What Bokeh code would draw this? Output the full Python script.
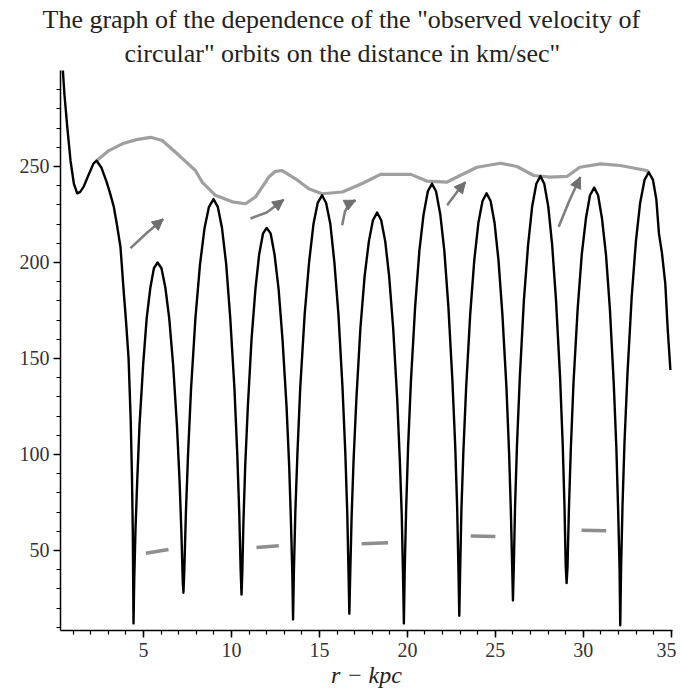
from bokeh.plotting import figure
from bokeh.models import Range1d, FixedTicker, Title, Arrow, NormalHead
from bokeh.embed import file_html
from bokeh.resources import INLINE

# ---------------- data ----------------
title_lines = ['The graph of the dependence of the "observed velocity of',
               'circular" orbits on the distance in km/sec"']
x_label = "r \u2212 kpc"
x_ticks = [5, 10, 15, 20, 25, 30, 35]
y_ticks = [50, 100, 150, 200, 250]

# black curve: velocity vs distance
black_r = [0.40, 0.50, 0.66, 0.85, 1.04, 1.23, 1.40, 1.60, 1.80, 1.99, 2.15, 2.33,
           2.60, 2.90, 3.10, 3.31, 3.50, 3.69, 3.88, 4.00, 4.15, 4.27, 4.34, 4.39, 4.43,
           4.47, 4.54, 4.64, 4.77, 4.98, 5.18, 5.39, 5.59, 5.80, 6.02, 6.24, 6.46, 6.68, 6.90, 7.05, 7.15, 7.23, 7.27,
           7.32, 7.41, 7.53, 7.70, 7.95, 8.21, 8.47, 8.72, 8.98, 9.22, 9.46, 9.70, 9.93, 10.17, 10.33, 10.44, 10.52, 10.57,
           10.61, 10.68, 10.78, 10.93, 11.14, 11.36, 11.57, 11.79, 12.00, 12.23, 12.45, 12.68, 12.90, 13.13, 13.28, 13.38, 13.46, 13.50,
           13.55, 13.63, 13.75, 13.91, 14.16, 14.41, 14.66, 14.90, 15.15, 15.38, 15.62, 15.85, 16.08, 16.31, 16.47, 16.58, 16.65, 16.70,
           16.75, 16.83, 16.94, 17.10, 17.33, 17.57, 17.81, 18.04, 18.28, 18.51, 18.74, 18.96, 19.19, 19.42, 19.57, 19.68, 19.75, 19.80,
           19.85, 19.93, 20.04, 20.20, 20.44, 20.68, 20.92, 21.16, 21.40, 21.63, 21.87, 22.10, 22.33, 22.56, 22.72, 22.83, 22.90, 22.95,
           23.00, 23.07, 23.18, 23.34, 23.57, 23.80, 24.04, 24.27, 24.50, 24.73, 24.95, 25.18, 25.40, 25.63, 25.78, 25.88, 25.96, 26.00,
           26.05, 26.12, 26.23, 26.39, 26.62, 26.86, 27.09, 27.33, 27.56, 27.78, 28.01, 28.23, 28.45, 28.68, 28.83, 28.93, 29.00, 29.05,
           29.10, 29.18, 29.29, 29.44, 29.68, 29.91, 30.15, 30.38, 30.62, 30.84, 31.06, 31.29, 31.51, 31.73, 31.88, 31.98, 32.06, 32.10,
           32.15, 32.23, 32.34, 32.51, 32.75, 32.99, 33.23, 33.48, 33.72, 33.96, 34.15, 34.30, 34.47, 34.66, 34.80, 34.95]
black_v = [302, 288, 271, 253, 241, 236, 236.8, 239.5, 244, 248, 251.5, 253,
           249.5, 242, 236, 229, 219, 208, 184, 170, 150, 118, 90, 60, 12,
           34, 60, 86, 115, 147, 171, 187, 197, 200, 197, 187, 171, 147, 115, 86, 60, 34, 28,
           40, 70, 100, 134, 171, 199, 218, 229, 233, 229, 218, 199, 171, 134, 100, 70, 40, 27,
           37, 65, 94, 125, 160, 186, 204, 215, 218, 215, 204, 186, 160, 125, 94, 65, 37, 14,
           40, 70, 101, 135, 173, 200, 220, 231, 235, 231, 220, 200, 173, 135, 101, 70, 40, 17,
           38, 68, 97, 129, 166, 193, 211, 222, 226, 222, 211, 193, 166, 129, 97, 68, 38, 12,
           41, 72, 104, 138, 177, 206, 225, 237, 241, 237, 225, 206, 177, 138, 104, 72, 41, 16,
           40, 71, 101, 135, 173, 201, 221, 232, 236, 232, 221, 201, 173, 135, 101, 71, 40, 24,
           42, 73, 105, 140, 180, 209, 229, 241, 245, 241, 229, 209, 180, 140, 105, 73, 42, 33,
           41, 71, 103, 137, 176, 204, 223, 235, 239, 235, 223, 204, 176, 137, 103, 71, 41, 11,
           42, 74, 106, 142, 182, 211, 231, 243, 247, 243, 233, 215, 205, 189, 165, 144]

# grey hand-drawn envelope curve
grey_r = [2.33, 3.03, 3.79, 4.60, 5.40, 6.06, 6.82, 7.40, 7.95, 8.33, 9.09, 10.04, 10.80,
          11.36, 11.80, 12.12, 12.50, 12.88, 13.64, 14.39, 15.15, 16.30, 17.40, 18.47, 20.20,
          21.10, 22.26, 23.00, 23.96, 25.30, 26.23, 27.18, 28.10, 29.07, 29.80, 30.97, 32.10,
          33.60, 33.72]
grey_v = [253, 258.3, 261.8, 264, 265.2, 263.5, 257.4, 252.5, 247.9, 241.9, 235, 231.6, 230.6,
          234.1, 240, 244.5, 247.5, 247.9, 243.6, 238.4, 235.8, 236.7, 241, 245.9, 245.9,
          242.4, 241.9, 245.3, 249.6, 251.7, 250, 245.3, 244.5, 244.8, 249.6, 251.4, 250.5,
          247.9, 247]

# grey arrows (shaft points) in data units
arrow_r = [[4.26, 5.2, 6.12],
           [11.08, 12.0, 12.97],
           [16.29, 16.45, 16.7, 17.05],
           [22.26, 22.8, 23.3],
           [28.60, 29.2, 29.83]]
arrow_v = [[207.5, 215.5, 222.6],
           [222.9, 226.0, 232.7],
           [219.4, 226.5, 230.8, 232.4],
           [229.8, 236.5, 241.9],
           [218.6, 232.0, 244.5]]

# grey short dashes near the bottom
dash_r = [[5.13, 6.42], [11.42, 12.69], [17.40, 18.90], [23.60, 25.00], [29.90, 31.30]]
dash_v = [[48.5, 50.5], [51.5, 52.4], [53.5, 54.0], [57.5, 57.3], [60.5, 60.3]]

# ---------------- figure ----------------
serif = "Liberation Serif"
p = figure(width=676, height=690,
           x_range=Range1d(0.28, 35.07), y_range=Range1d(8.3, 300),
           output_backend="svg", toolbar_location=None,
           min_border_left=60, min_border_right=4, min_border_top=70, min_border_bottom=60)
p.background_fill_color = "white"
p.border_fill_color = "white"
p.outline_line_color = None
p.xgrid.visible = False
p.ygrid.visible = False

# title: two lines (second added first so it sits nearest the plot)
p.add_layout(Title(text=title_lines[1], align="left", text_font=serif,
                   text_font_size="26px", text_font_style="normal",
                   text_color="#222222", offset=64, standoff=6), "above")
p.add_layout(Title(text=title_lines[0], align="left", text_font=serif,
                   text_font_size="26px", text_font_style="normal",
                   text_color="#222222", offset=-18, standoff=0), "above")

for ax in (p.xaxis[0], p.yaxis[0]):
    ax.axis_line_color = "black"
    ax.axis_line_width = 1.5
    ax.major_tick_line_color = "black"
    ax.minor_tick_line_color = "black"
    ax.major_tick_line_width = 1.5
    ax.minor_tick_line_width = 1.2
    ax.major_tick_in = 0
    ax.minor_tick_in = 0
    ax.major_tick_out = 7
    ax.minor_tick_out = 4
    ax.major_label_text_font = serif
    ax.major_label_text_font_size = "20px"
    ax.major_label_text_color = "#333333"

p.xaxis.ticker = FixedTicker(ticks=x_ticks, minor_ticks=list(range(1, 36)))
p.yaxis.ticker = FixedTicker(ticks=y_ticks, minor_ticks=list(range(10, 300, 10)))
p.xaxis.major_label_standoff = 5
p.yaxis.major_label_standoff = 4

p.add_layout(Title(text=x_label, align="center", text_font=serif,
                   text_font_size="24px", text_font_style="italic",
                   text_color="#222222", standoff=0), "below")

# grey envelope
p.line(grey_r, grey_v, line_color="#9a9a9a", line_width=3.2, line_alpha=0.95)

# black curve
p.line(black_r, black_v, line_color="black", line_width=2.4, line_join="round")

# grey dashes
p.multi_line(dash_r, dash_v, line_color="#8e8e8e", line_width=3.5)

# grey arrows
p.multi_line(arrow_r, arrow_v, line_color="#7f7f7f", line_width=2.6)
for rs, vs in zip(arrow_r, arrow_v):
    p.add_layout(Arrow(end=NormalHead(size=11, fill_color="#6f6f6f", line_color="#6f6f6f"),
                       x_start=rs[-2], y_start=vs[-2], x_end=rs[-1], y_end=vs[-1],
                       line_alpha=0))

open("out.html", "w").write(file_html(p, INLINE))
